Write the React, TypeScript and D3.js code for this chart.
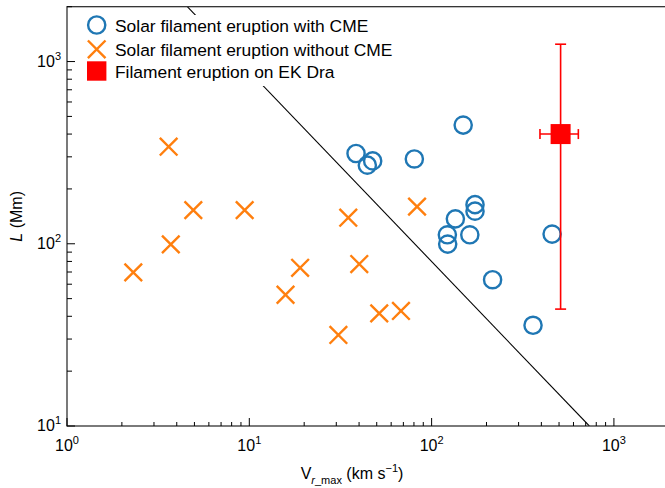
import React, { useEffect, useRef } from 'react';
import * as d3 from 'd3';

// Solar filament eruptions with CME: [V_r_max (km/s), L (Mm)]
const withCME: [number, number][] = [
  [149, 448], [38.5, 313], [47.5, 285], [44.4, 270], [80.4, 292],
  [173, 164], [173, 151], [135, 137], [122, 112], [122.5, 99.6],
  [162, 112], [458, 113], [216, 63.5], [360, 35.7],
];

// Solar filament eruptions without CME
const withoutCME: [number, number][] = [
  [3.61, 341], [4.93, 153], [9.43, 153], [3.71, 99.3], [2.31, 69.7],
  [19.0, 73.8], [15.8, 52.5], [30.8, 31.6], [34.9, 139], [83.2, 160],
  [40.1, 77.4], [51.6, 41.5], [67.9, 42.8],
];

// EK Dra eruption with error ranges
const ekDra = { v: 510, l: 400, vLow: 393, vHigh: 638, lLow: 43.8, lHigh: 1245 };

// separating line endpoints
const boundary: [number, number][] = [[4.57, 2000], [733, 10]];

const xDecades = [0, 1, 2, 3];
const yDecades = [1, 2, 3];

const legendItems = [
  'Solar filament eruption with CME',
  'Solar filament eruption without CME',
  'Filament eruption on EK Dra',
];

const App = () => {
  const svgRef = useRef<SVGSVGElement>(null);

  useEffect(() => {
    const W = 665, H = 488;
    const left = 67, right = 668.8, top = 6.7, bottom = 426;
    const font = '"Liberation Sans", Arial, Helvetica, sans-serif';
    const blue = '#1f77b4', orange = '#ff7f0e', red = '#ff0000';

    const root = d3.select(svgRef.current);
    root.selectAll('*').remove();
    const svg = root.attr('width', W).attr('height', H).style('font-family', font);

    const x = d3.scaleLog().domain([1, 2000]).range([left, right]);
    const y = d3.scaleLog().domain([10, 2000]).range([bottom, top]);

    svg.append('defs').append('clipPath').attr('id', 'plotclip')
      .append('rect').attr('x', left).attr('y', top)
      .attr('width', right - left).attr('height', bottom - top);

    // boundary line
    svg.append('path')
      .attr('clip-path', 'url(#plotclip)')
      .attr('d', d3.line<[number, number]>().x(d => x(d[0])).y(d => y(d[1]))(boundary))
      .attr('stroke', '#000').attr('stroke-width', 1.1).attr('fill', 'none');

    // frame
    svg.append('rect')
      .attr('x', left).attr('y', top).attr('width', right - left).attr('height', bottom - top)
      .attr('fill', 'none').attr('stroke', '#222').attr('stroke-width', 1.2);

    // x ticks (inside)
    const xTicks: { v: number; major: boolean }[] = [];
    for (let e = 0; e <= 3; e++) {
      for (let m = 1; m <= 9; m++) {
        const v = m * Math.pow(10, e);
        if (v <= 2000) xTicks.push({ v, major: m === 1 });
      }
    }
    xTicks.push({ v: 2000, major: false });
    svg.append('g').selectAll('line').data(xTicks).enter().append('line')
      .attr('x1', d => x(d.v)).attr('x2', d => x(d.v))
      .attr('y1', bottom).attr('y2', d => bottom - (d.major ? 8 : 4))
      .attr('stroke', '#000').attr('stroke-width', 1);

    const yTicks: { v: number; major: boolean }[] = [];
    for (let e = 1; e <= 3; e++) {
      for (let m = 1; m <= 9; m++) {
        const v = m * Math.pow(10, e);
        if (v <= 2000) yTicks.push({ v, major: m === 1 });
      }
    }
    svg.append('g').selectAll('line').data(yTicks).enter().append('line')
      .attr('y1', d => y(d.v)).attr('y2', d => y(d.v))
      .attr('x1', left).attr('x2', d => left + (d.major ? 8 : 5))
      .attr('stroke', '#000').attr('stroke-width', 1);

    // x tick labels
    xDecades.forEach(e => {
      const t = svg.append('text')
        .attr('x', x(Math.pow(10, e))).attr('y', 451)
        .attr('text-anchor', 'middle').attr('font-size', 16).attr('fill', '#000');
      t.append('tspan').text('10');
      t.append('tspan').attr('dy', -7).attr('font-size', 11).text(String(e));
    });

    // y tick labels
    yDecades.forEach(e => {
      const t = svg.append('text')
        .attr('x', 61).attr('y', y(Math.pow(10, e)) + 5)
        .attr('text-anchor', 'end').attr('font-size', 16).attr('fill', '#000');
      t.append('tspan').text('10');
      t.append('tspan').attr('dy', -7).attr('font-size', 11).text(String(e));
    });

    // axis titles
    const xl = svg.append('text')
      .attr('x', 352).attr('y', 479.3).attr('text-anchor', 'middle')
      .attr('font-size', 16).attr('fill', '#000');
    xl.append('tspan').text('V');
    xl.append('tspan').attr('dy', 5).attr('font-size', 11).attr('font-style', 'italic').text('r');
    xl.append('tspan').attr('font-size', 11).text('_max');
    xl.append('tspan').attr('dy', -5).text(' (km s');
    xl.append('tspan').attr('dy', -7).attr('font-size', 11).text('−1');
    xl.append('tspan').attr('dy', 7).text(')');

    const yl = svg.append('text')
      .attr('transform', `translate(22, ${(top + bottom) / 2}) rotate(-90)`)
      .attr('text-anchor', 'middle').attr('font-size', 16).attr('fill', '#000');
    yl.append('tspan').attr('font-style', 'italic').text('L');
    yl.append('tspan').text(' (Mm)');

    // circles
    svg.append('g').selectAll('circle').data(withCME).enter().append('circle')
      .attr('cx', d => x(d[0])).attr('cy', d => y(d[1])).attr('r', 8.6)
      .attr('fill', 'none').attr('stroke', blue).attr('stroke-width', 2.4);

    // crosses
    const cross = (cx: number, cy: number, s: number) =>
      `M${cx - s},${cy - s}L${cx + s},${cy + s}M${cx - s},${cy + s}L${cx + s},${cy - s}`;
    svg.append('g').selectAll('path').data(withoutCME).enter().append('path')
      .attr('d', d => cross(x(d[0]), y(d[1]), 8.8))
      .attr('fill', 'none').attr('stroke', orange).attr('stroke-width', 2.4);

    // EK Dra with error bars
    const ek = svg.append('g').attr('stroke', red).attr('stroke-width', 1.6);
    const ex = x(ekDra.v), ey = y(ekDra.l);
    ek.append('line').attr('x1', ex).attr('x2', ex).attr('y1', y(ekDra.lHigh)).attr('y2', y(ekDra.lLow));
    ek.append('line').attr('x1', ex - 5.5).attr('x2', ex + 5.5).attr('y1', y(ekDra.lHigh)).attr('y2', y(ekDra.lHigh));
    ek.append('line').attr('x1', ex - 5.5).attr('x2', ex + 5.5).attr('y1', y(ekDra.lLow)).attr('y2', y(ekDra.lLow));
    ek.append('line').attr('x1', x(ekDra.vLow)).attr('x2', x(ekDra.vHigh)).attr('y1', ey).attr('y2', ey);
    ek.append('line').attr('x1', x(ekDra.vLow)).attr('x2', x(ekDra.vLow)).attr('y1', ey - 5).attr('y2', ey + 5);
    ek.append('line').attr('x1', x(ekDra.vHigh)).attr('x2', x(ekDra.vHigh)).attr('y1', ey - 5).attr('y2', ey + 5);
    svg.append('rect').attr('x', ex - 10).attr('y', ey - 10).attr('width', 20).attr('height', 20)
      .attr('fill', red);

    // legend
    const lg = svg.append('g');
    lg.append('rect').attr('x', 84).attr('y', 15).attr('width', 315).attr('height', 71).attr('fill', '#fff');
    const lx = 96.7;
    lg.append('circle').attr('cx', lx).attr('cy', 25).attr('r', 8.6)
      .attr('fill', 'none').attr('stroke', blue).attr('stroke-width', 2.4);
    lg.append('path').attr('d', cross(lx, 49.3, 8.8))
      .attr('fill', 'none').attr('stroke', orange).attr('stroke-width', 2.4);
    lg.append('rect').attr('x', lx - 9.7).attr('y', 71 - 9.7).attr('width', 19.4).attr('height', 19.4)
      .attr('fill', red);
    const baselines = [32.3, 55.5, 77.5];
    lg.selectAll('text.item').data(legendItems).enter().append('text')
      .attr('class', 'item')
      .attr('x', 115).attr('y', (d, i) => baselines[i])
      .attr('font-size', 17.4).attr('fill', '#000')
      .text(d => d);
  }, []);

  return (
    <div style={{ position: 'absolute', left: 0, top: 0 }}>
      <svg ref={svgRef} style={{ display: 'block' }}></svg>
    </div>
  );
};

export default App;
